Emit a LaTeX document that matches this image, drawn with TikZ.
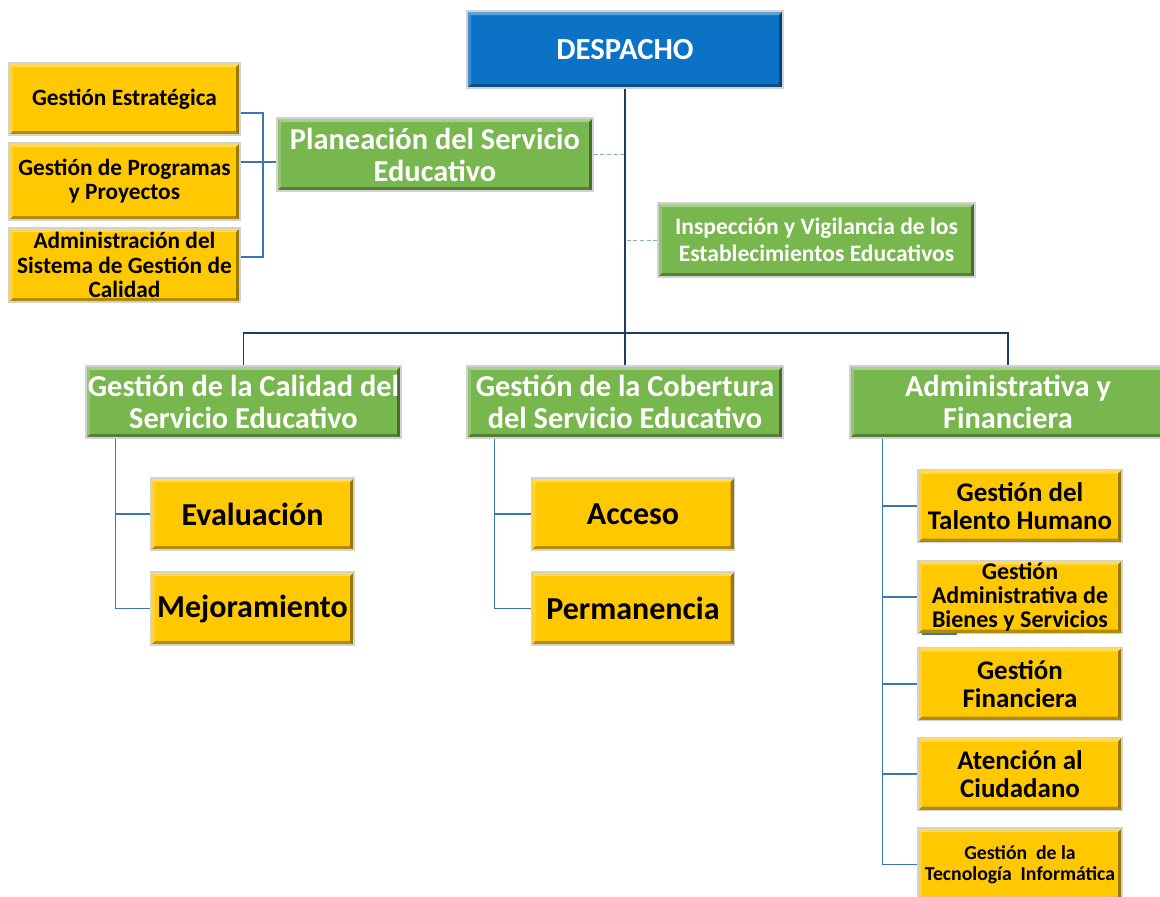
\documentclass[tikz,border=0pt]{standalone}
\usepackage{fontspec}
\setmainfont{Carlito}
\usepackage{tikz}
\usetikzlibrary{positioning}
\definecolor{despblue}{HTML}{0B72C6}
\definecolor{areagreen}{HTML}{78B64E}
\definecolor{unitgold}{HTML}{FFC800}
\definecolor{trunknavy}{HTML}{1F3A66}
\definecolor{linkblue}{HTML}{3B76B4}

\begin{document}
\begin{tikzpicture}[x = .75pt, y = -.75pt,
  bevel/.style = {draw = gray!35, line width = .8pt, inner sep = 0, align = center, font = \bfseries,
    path picture = {
      \fill[white, opacity = .35] (path picture bounding box.north west) -- (path picture bounding box.north east)
        -- ([shift = {(-3pt, -3pt)}]path picture bounding box.north east) -- ([shift = {(3pt, -3pt)}]path picture bounding box.north west) -- cycle;
      \fill[white, opacity = .2] (path picture bounding box.north west) -- (path picture bounding box.south west)
        -- ([shift = {(3pt, 3pt)}]path picture bounding box.south west) -- ([shift = {(3pt, -3pt)}]path picture bounding box.north west) -- cycle;
      \fill[black, opacity = .4] (path picture bounding box.north east) -- (path picture bounding box.south east)
        -- ([shift = {(-3pt, 3pt)}]path picture bounding box.south east) -- ([shift = {(-3pt, -3pt)}]path picture bounding box.north east) -- cycle;
      \fill[black, opacity = .3] (path picture bounding box.south west) -- (path picture bounding box.south east)
        -- ([shift = {(-3pt, 3pt)}]path picture bounding box.south east) -- ([shift = {(3pt, 3pt)}]path picture bounding box.south west) -- cycle;
    }},
  desp/.style = {bevel, fill = despblue, text = white, minimum width = 237pt, minimum height = 57.75pt, font = \fontsize{23}{26}\bfseries},
  area/.style = {bevel, fill = areagreen, text = white, minimum width = 237pt, minimum height = 54pt, font = \fontsize{22.8}{24}\bfseries},
  unit/.style = {bevel, fill = unitgold, text = black, minimum width = 153pt, minimum height = 54.75pt},
  trunk/.style = {trunknavy, line width = 1.7pt},
  link/.style = {linkblue, line width = 1.4pt},
  staff/.style = {linkblue!60, line width = .5pt, densely dashed}]
 \useasboundingbox (0, 0) rectangle (1160, 896);

 \node[desp] (desp) at (625, 49.5) {DESPACHO};
 \node[area, minimum height = 54.75pt] (plan) at (435, 154.5) {Planeación del Servicio\\Educativo};
 \node[area, minimum width = 237.75pt, minimum height = 55.5pt, font = \fontsize{17.7}{20}\bfseries] (insp) at (816.5, 240) {Inspección y Vigilancia de los\\Establecimientos Educativos};

 \node[unit, minimum width = 173.25pt, minimum height = 54pt, font = \fontsize{17.5}{18}\bfseries] (estr) at (124.5, 99) {Gestión Estratégica};
 \node[unit, minimum width = 173.25pt, minimum height = 57.75pt, font = \fontsize{17.5}{18}\bfseries] (prog) at (124.5, 181.5) {Gestión de Programas\\y Proyectos};
 \node[unit, minimum width = 173.25pt, minimum height = 55.5pt, font = \fontsize{17.5}{18.4}\bfseries] (sgc) at (124.5, 265) {Administración del\\Sistema de Gestión de\\Calidad};

 \node[area, minimum width = 236.25pt] (cal) at (243.5, 402) {Gestión de la Calidad del\\Servicio Educativo};
 \node[area] (cob) at (625, 402) {Gestión de la Cobertura\\del Servicio Educativo};
 \node[area] (adm) at (1008, 402) {Administrativa y\\Financiera};

 \node[unit, minimum width = 152.25pt, minimum height = 54pt, font = \fontsize{24}{26}\bfseries] (eval) at (252.5, 514) {Evaluación};
 \node[unit, minimum width = 152.25pt, font = \fontsize{24}{26}\bfseries] (mej) at (252.5, 608.5) {Mejoramiento};
 \node[unit, minimum width = 152.25pt, minimum height = 54pt, font = \fontsize{24}{26}\bfseries] (acc) at (633, 514) {Acceso};
 \node[unit, minimum width = 152.25pt, font = \fontsize{24}{26}\bfseries] (perm) at (633, 608.5) {Permanencia};

 \node[unit, font = \fontsize{20.2}{21}\bfseries] (tal) at (1020, 506) {Gestión del\\Talento Humano};
 \node[unit, font = \fontsize{18}{18}\bfseries] (bien) at (1020, 597) {Gestión\\Administrativa de\\Bienes y Servicios};
 \node[unit, font = \fontsize{20.2}{21}\bfseries] (fin) at (1020, 684) {Gestión\\Financiera};
 \node[unit, font = \fontsize{20.2}{21}\bfseries] (ciu) at (1020, 774) {Atención al\\Ciudadano};
 \node[unit, font = \fontsize{14.8}{15.75}\bfseries] (tec) at (1020, 864.5) {Gestión~ de la\\Tecnología~ Informática};

 \coordinate (bus) at (626, 333);
 \coordinate (brk) at (263, 162);

 % trunk and bus
 \draw[trunk] (desp.south) -- (cob.north);
 \draw[trunk, line width = 1.1pt] (cal.north) |- (bus) -| (adm.north);
 \draw[staff] (plan.east) -- (plan.east -| desp.south);
 \draw[staff] (insp.west) -- (insp.west -| desp.south);

 % planeacion bracket
 \draw[link] (estr.east |- 0, 113) -| (brk) |- (sgc.east |- 0, 257);
 \draw[link] (brk -| prog.east) -- (brk -| plan.west);

 % lower branches
 \draw[link] ([xshift = 22.5pt]cal.south west) |- (eval.west);
 \draw[link] ([xshift = 22.5pt]cal.south west) |- (mej.west);
 \draw[link] ([xshift = 21pt]cob.south west) |- (acc.west);
 \draw[link] ([xshift = 21pt]cob.south west) |- (perm.west);
 \foreach \u in {tal, bien, fin, ciu, tec}
  \draw[link] ([xshift = 24.75pt]adm.south west) |- (\u.west);
 \draw[link] ([xshift = 3.75pt]bien.south west) -- ([xshift = 30pt]bien.south west);
\end{tikzpicture}
\end{document}
